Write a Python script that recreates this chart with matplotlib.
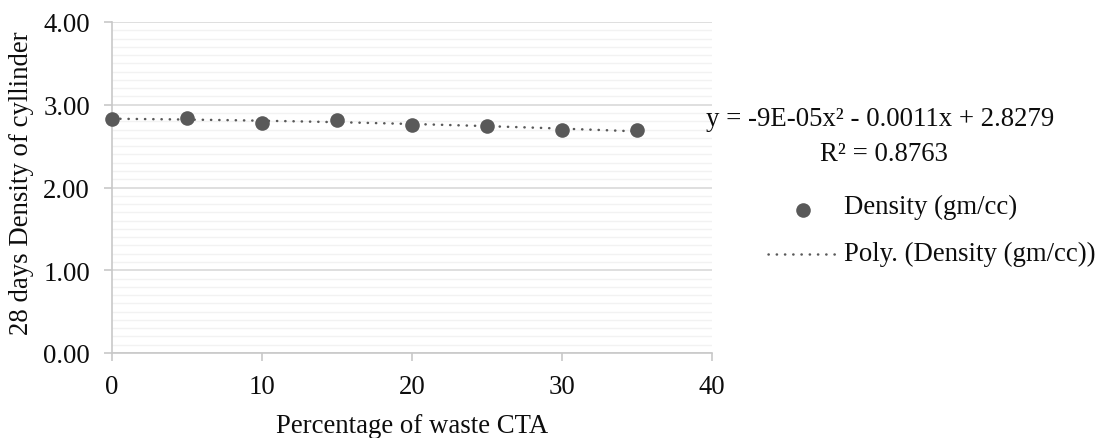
import matplotlib
matplotlib.use("Agg")
import matplotlib.pyplot as plt
import numpy as np
from matplotlib.lines import Line2D
from matplotlib.ticker import MultipleLocator

plt.rcParams['font.family'] = ['Liberation Serif', 'DejaVu Serif']

waste_pct = [0, 5, 10, 15, 20, 25, 30, 35]
density = [2.824, 2.84, 2.78, 2.816, 2.76, 2.748, 2.69, 2.69]
x_ticks = [0, 10, 20, 30, 40]
y_ticks = [0.0, 1.0, 2.0, 3.0, 4.0]

W, H = 1103, 439
FS = 19.3
TXT = '#0d0d0d'
GRAY = '#595959'
DOT = (0, (0.1, 3.2))

fig = plt.figure(figsize=(W/100, H/100), dpi=100)
x0, x1, y0, y1 = 112, 712, 23, 354
ax = fig.add_axes([x0/W, 1 - y1/H, (x1-x0)/W, (y1-y0)/H])

ax.set_xlim(0, 40)
ax.set_ylim(0, 4)
ax.yaxis.set_minor_locator(MultipleLocator(0.1))
ax.grid(which='minor', axis='y', color='#f2f2f2', lw=1.0, zorder=0)
ax.grid(which='major', axis='y', color='#d9d9d9', lw=1.2, zorder=0)
ax.set_axisbelow(True)

for s in ['top', 'right']:
    ax.spines[s].set_visible(False)
for s in ['left', 'bottom']:
    ax.spines[s].set_color('#c8c8c8')
    ax.spines[s].set_linewidth(1.2)

ax.set_xticks(x_ticks)
ax.set_yticks(y_ticks)
ax.set_yticklabels([f"{v:.2f}" for v in y_ticks])
ax.tick_params(which='major', length=5.8, width=1.2, color='#c8c8c8', labelsize=FS, labelcolor=TXT)
ax.tick_params(which='minor', length=0)
ax.tick_params(axis='x', pad=9)
ax.tick_params(axis='y', pad=10)

# polynomial trendline (order 2) fit from data
coef = np.polyfit(waste_pct, density, 2)
xs = np.linspace(min(waste_pct), max(waste_pct), 300)
ax.plot(xs, np.polyval(coef, xs), color=GRAY, lw=1.8, ls=DOT,
        dash_capstyle='round', zorder=3, clip_on=False)
ax.plot(waste_pct, density, 'o', color=GRAY, markersize=10.5, markeredgewidth=0,
        zorder=4, clip_on=False)

ax.set_xlabel('Percentage of waste CTA', fontsize=FS, color=TXT)
ax.xaxis.label.set_va('baseline')
ax.xaxis.set_label_coords(0.5, (y1 - 433) / (y1 - y0))
ax.set_ylabel('28 days Density of cyllinder', fontsize=FS, color=TXT)
ax.yaxis.label.set_va('center')
ax.yaxis.set_label_coords((22 - x0) / (x1 - x0), (y1 - 183) / (y1 - y0))

fig.text(880/W, 1 - 126/H, 'y = -9E-05x² - 0.0011x + 2.8279', fontsize=FS,
         ha='center', va='baseline', color=TXT)
fig.text(884/W, 1 - 161/H, 'R² = 0.8763', fontsize=FS, ha='center', va='baseline', color=TXT)

# legend
fig.add_artist(Line2D([803/W], [1 - 211/H], marker='o', color=GRAY, markersize=10.5,
                      markeredgewidth=0, transform=fig.transFigure, ls='none'))
fig.text(844/W, 1 - 214/H, 'Density (gm/cc)', fontsize=FS, ha='left', va='baseline', color=TXT)
fig.add_artist(Line2D([768/W, 838/W], [1 - 255/H, 1 - 255/H], color=GRAY, lw=1.8,
                      ls=DOT, dash_capstyle='round', transform=fig.transFigure))
fig.text(844/W, 1 - 261/H, 'Poly. (Density (gm/cc))', fontsize=FS, ha='left', va='baseline', color=TXT)

fig.savefig('out.png', dpi=100)
